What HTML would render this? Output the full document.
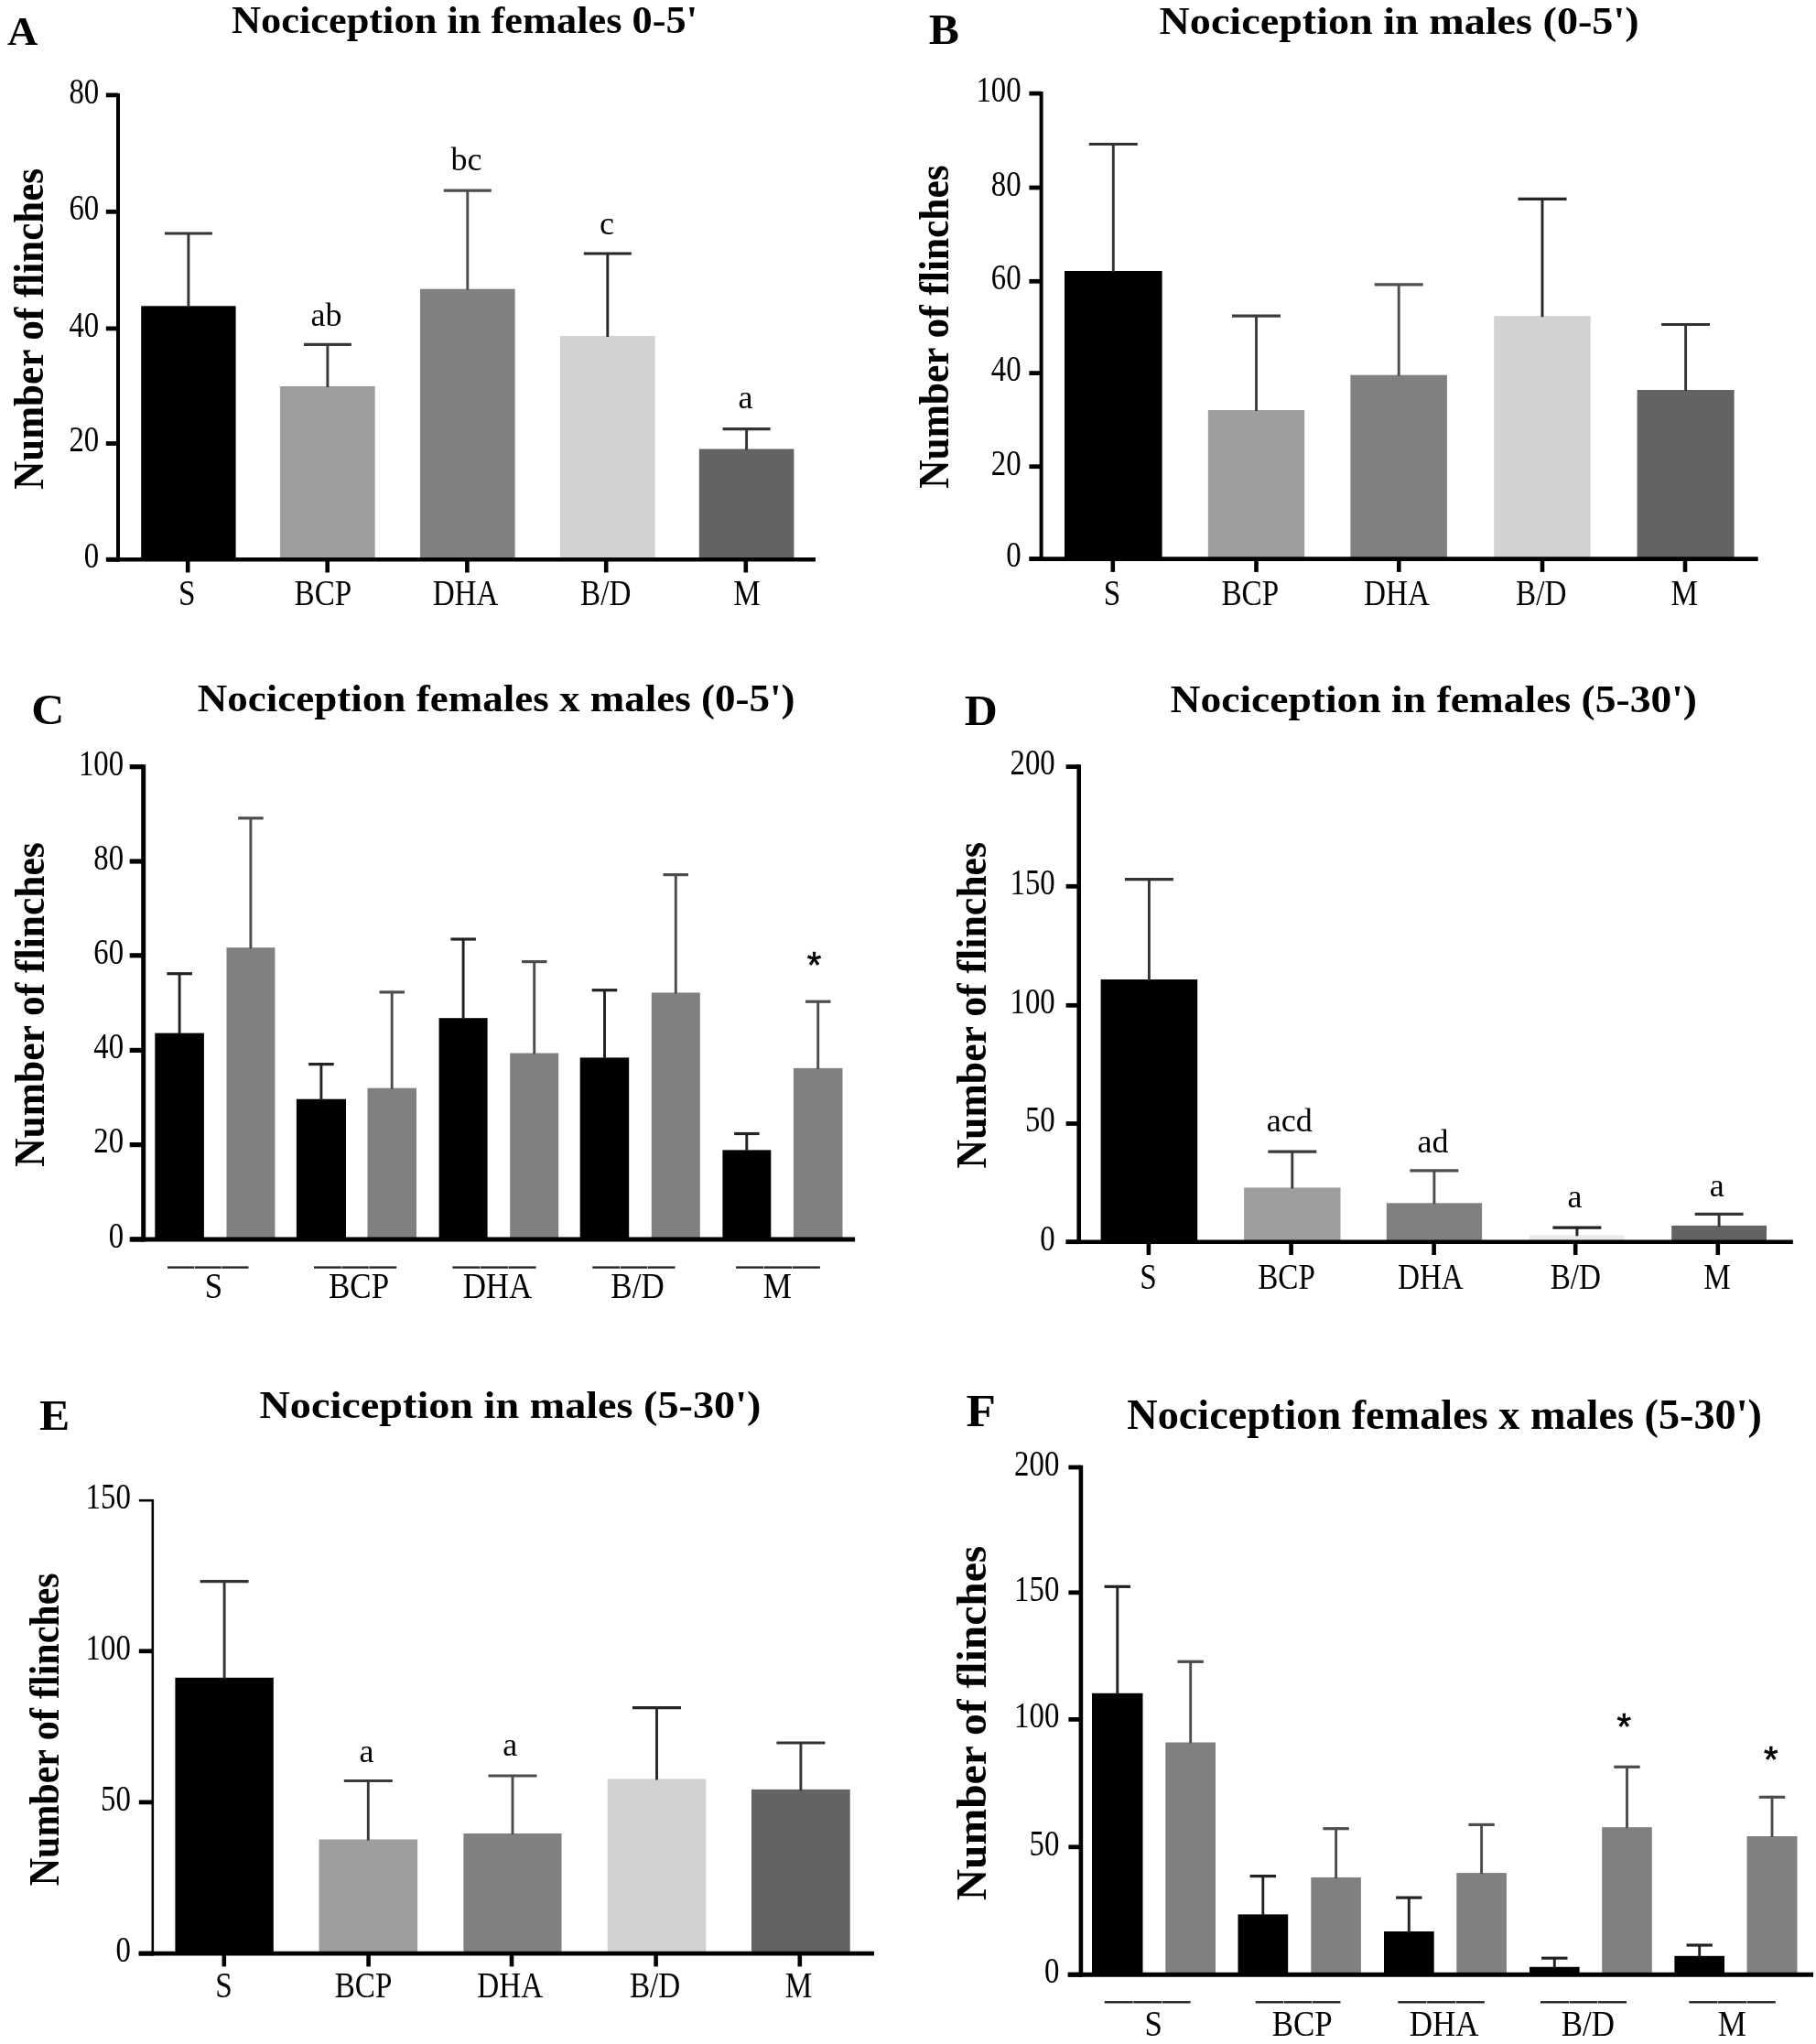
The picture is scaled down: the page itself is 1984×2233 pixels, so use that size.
<!DOCTYPE html>
<html lang="en"><head><meta charset="utf-8"><title>Nociception figure</title>
<style>
html,body{margin:0;padding:0;background:#fff;}
svg{display:block;font-family:"Liberation Serif","DejaVu Serif",serif;}
#fig{filter:blur(0.55px);}
</style></head><body>
<svg width="1984" height="2233" viewBox="0 0 1984 2233">
<rect width="1984" height="2233" fill="#fff"/>
<g id="fig">
<g>
<rect x="154.2" y="334.3" width="103.4" height="276.9" fill="#000000"/>
<rect x="306.0" y="422.0" width="103.7" height="189.2" fill="#9e9e9e"/>
<rect x="459.0" y="315.7" width="103.6" height="295.5" fill="#808080"/>
<rect x="612.0" y="367.0" width="103.6" height="244.2" fill="#d2d2d2"/>
<rect x="763.8" y="490.5" width="103.6" height="120.7" fill="#636363"/>
<line x1="205.9" y1="255.0" x2="205.9" y2="335.3" stroke="#333" stroke-width="2.9"/>
<line x1="179.9" y1="255.0" x2="231.9" y2="255.0" stroke="#333" stroke-width="3.1999999999999997"/>
<line x1="357.9" y1="376.4" x2="357.9" y2="423.0" stroke="#3a3a3a" stroke-width="2.9"/>
<line x1="331.9" y1="376.4" x2="383.9" y2="376.4" stroke="#3a3a3a" stroke-width="3.1999999999999997"/>
<line x1="510.8" y1="208.2" x2="510.8" y2="316.7" stroke="#4c4c4c" stroke-width="2.9"/>
<line x1="484.8" y1="208.2" x2="536.8" y2="208.2" stroke="#4c4c4c" stroke-width="3.1999999999999997"/>
<line x1="663.8" y1="277.0" x2="663.8" y2="368.0" stroke="#262626" stroke-width="2.9"/>
<line x1="637.8" y1="277.0" x2="689.8" y2="277.0" stroke="#262626" stroke-width="3.1999999999999997"/>
<line x1="815.6" y1="468.6" x2="815.6" y2="491.5" stroke="#333" stroke-width="2.9"/>
<line x1="789.6" y1="468.6" x2="841.6" y2="468.6" stroke="#333" stroke-width="3.1999999999999997"/>
<line x1="129.0" y1="101.9" x2="129.0" y2="613.5" stroke="#000" stroke-width="4.0"/>
<line x1="116.7" y1="611.2" x2="891.0" y2="611.2" stroke="#000" stroke-width="4.6"/>
<line x1="115.8" y1="103.9" x2="129.0" y2="103.9" stroke="#000" stroke-width="4.8"/>
<text x="108.2" y="112.7" font-size="40" text-anchor="end" textLength="32.8" lengthAdjust="spacingAndGlyphs">80</text>
<line x1="115.8" y1="231.3" x2="129.0" y2="231.3" stroke="#000" stroke-width="4.8"/>
<text x="108.2" y="240.1" font-size="40" text-anchor="end" textLength="32.8" lengthAdjust="spacingAndGlyphs">60</text>
<line x1="115.8" y1="358.9" x2="129.0" y2="358.9" stroke="#000" stroke-width="4.8"/>
<text x="108.2" y="367.7" font-size="40" text-anchor="end" textLength="32.8" lengthAdjust="spacingAndGlyphs">40</text>
<line x1="115.8" y1="484.5" x2="129.0" y2="484.5" stroke="#000" stroke-width="4.8"/>
<text x="108.2" y="493.3" font-size="40" text-anchor="end" textLength="32.8" lengthAdjust="spacingAndGlyphs">20</text>
<line x1="115.8" y1="611.2" x2="129.0" y2="611.2" stroke="#000" stroke-width="4.8"/>
<text x="108.2" y="620.0" font-size="40" text-anchor="end" textLength="16.4" lengthAdjust="spacingAndGlyphs">0</text>
<line x1="205.2" y1="611.2" x2="205.2" y2="625.5" stroke="#000" stroke-width="4.6"/>
<line x1="357.7" y1="611.2" x2="357.7" y2="625.5" stroke="#000" stroke-width="4.6"/>
<line x1="510.4" y1="611.2" x2="510.4" y2="625.5" stroke="#000" stroke-width="4.6"/>
<line x1="662.2" y1="611.2" x2="662.2" y2="625.5" stroke="#000" stroke-width="4.6"/>
<line x1="814.8" y1="611.2" x2="814.8" y2="625.5" stroke="#000" stroke-width="4.6"/>
<text x="204.2" y="661.0" font-size="39.5" text-anchor="middle" textLength="18.5" lengthAdjust="spacingAndGlyphs">S</text>
<text x="352.9" y="661.0" font-size="39.5" text-anchor="middle" textLength="62.7" lengthAdjust="spacingAndGlyphs">BCP</text>
<text x="508.6" y="661.0" font-size="39.5" text-anchor="middle" textLength="71.9" lengthAdjust="spacingAndGlyphs">DHA</text>
<text x="661.7" y="661.0" font-size="39.5" text-anchor="middle" textLength="55.3" lengthAdjust="spacingAndGlyphs">B/D</text>
<text x="815.9" y="661.0" font-size="39.5" text-anchor="middle" textLength="29.5" lengthAdjust="spacingAndGlyphs">M</text>
<text x="356.6" y="356.2" font-size="36" text-anchor="middle">ab</text>
<text x="509.5" y="186.0" font-size="36" text-anchor="middle">bc</text>
<text x="663.0" y="255.5" font-size="36" text-anchor="middle">c</text>
<text x="814.5" y="446.0" font-size="36" text-anchor="middle">a</text>
<text x="8.0" y="48.6" font-size="43.5" text-anchor="start" font-weight="bold" textLength="33.3" lengthAdjust="spacingAndGlyphs">A</text>
<text x="253.0" y="36.0" font-size="42.5" text-anchor="start" font-weight="bold" textLength="509.0" lengthAdjust="spacingAndGlyphs">Nociception in females 0-5'</text>
<text x="46.6" y="534.8" font-size="46" text-anchor="start" font-weight="bold" textLength="350.9" lengthAdjust="spacingAndGlyphs" transform="rotate(-90 46.6 534.8)">Number of flinches</text>
</g>
<g>
<rect x="1163.0" y="296.0" width="106.6" height="314.6" fill="#000000"/>
<rect x="1319.8" y="448.0" width="105.4" height="162.6" fill="#9e9e9e"/>
<rect x="1475.4" y="409.7" width="105.5" height="200.9" fill="#808080"/>
<rect x="1632.2" y="345.2" width="105.5" height="265.4" fill="#d2d2d2"/>
<rect x="1788.6" y="426.0" width="106.0" height="184.6" fill="#636363"/>
<line x1="1216.3" y1="157.5" x2="1216.3" y2="297.0" stroke="#333" stroke-width="2.9"/>
<line x1="1189.8" y1="157.5" x2="1242.8" y2="157.5" stroke="#333" stroke-width="3.1999999999999997"/>
<line x1="1372.5" y1="345.2" x2="1372.5" y2="449.0" stroke="#3a3a3a" stroke-width="2.9"/>
<line x1="1346.0" y1="345.2" x2="1399.0" y2="345.2" stroke="#3a3a3a" stroke-width="3.1999999999999997"/>
<line x1="1528.2" y1="310.8" x2="1528.2" y2="410.7" stroke="#4c4c4c" stroke-width="2.9"/>
<line x1="1501.7" y1="310.8" x2="1554.7" y2="310.8" stroke="#4c4c4c" stroke-width="3.1999999999999997"/>
<line x1="1685.0" y1="217.4" x2="1685.0" y2="346.2" stroke="#262626" stroke-width="2.9"/>
<line x1="1658.5" y1="217.4" x2="1711.5" y2="217.4" stroke="#262626" stroke-width="3.1999999999999997"/>
<line x1="1841.6" y1="354.5" x2="1841.6" y2="427.0" stroke="#333" stroke-width="2.9"/>
<line x1="1815.1" y1="354.5" x2="1868.1" y2="354.5" stroke="#333" stroke-width="3.1999999999999997"/>
<line x1="1137.6" y1="100.1" x2="1137.6" y2="612.9" stroke="#000" stroke-width="4.0"/>
<line x1="1124.7" y1="610.6" x2="1920.7" y2="610.6" stroke="#000" stroke-width="4.6"/>
<line x1="1124.4" y1="102.1" x2="1137.6" y2="102.1" stroke="#000" stroke-width="4.8"/>
<text x="1115.6" y="110.9" font-size="40" text-anchor="end" textLength="49.2" lengthAdjust="spacingAndGlyphs">100</text>
<line x1="1124.4" y1="205.0" x2="1137.6" y2="205.0" stroke="#000" stroke-width="4.8"/>
<text x="1115.6" y="213.8" font-size="40" text-anchor="end" textLength="32.8" lengthAdjust="spacingAndGlyphs">80</text>
<line x1="1124.4" y1="307.3" x2="1137.6" y2="307.3" stroke="#000" stroke-width="4.8"/>
<text x="1115.6" y="316.1" font-size="40" text-anchor="end" textLength="32.8" lengthAdjust="spacingAndGlyphs">60</text>
<line x1="1124.4" y1="407.6" x2="1137.6" y2="407.6" stroke="#000" stroke-width="4.8"/>
<text x="1115.6" y="416.4" font-size="40" text-anchor="end" textLength="32.8" lengthAdjust="spacingAndGlyphs">40</text>
<line x1="1124.4" y1="509.7" x2="1137.6" y2="509.7" stroke="#000" stroke-width="4.8"/>
<text x="1115.6" y="518.5" font-size="40" text-anchor="end" textLength="32.8" lengthAdjust="spacingAndGlyphs">20</text>
<line x1="1124.4" y1="610.6" x2="1137.6" y2="610.6" stroke="#000" stroke-width="4.8"/>
<text x="1115.6" y="619.4" font-size="40" text-anchor="end" textLength="16.4" lengthAdjust="spacingAndGlyphs">0</text>
<line x1="1215.8" y1="610.6" x2="1215.8" y2="624.9" stroke="#000" stroke-width="4.6"/>
<line x1="1372.5" y1="610.6" x2="1372.5" y2="624.9" stroke="#000" stroke-width="4.6"/>
<line x1="1528.3" y1="610.6" x2="1528.3" y2="624.9" stroke="#000" stroke-width="4.6"/>
<line x1="1685.0" y1="610.6" x2="1685.0" y2="624.9" stroke="#000" stroke-width="4.6"/>
<line x1="1841.0" y1="610.6" x2="1841.0" y2="624.9" stroke="#000" stroke-width="4.6"/>
<text x="1214.9" y="661.0" font-size="39.5" text-anchor="middle" textLength="18.5" lengthAdjust="spacingAndGlyphs">S</text>
<text x="1365.8" y="661.0" font-size="39.5" text-anchor="middle" textLength="62.7" lengthAdjust="spacingAndGlyphs">BCP</text>
<text x="1526.0" y="661.0" font-size="39.5" text-anchor="middle" textLength="71.9" lengthAdjust="spacingAndGlyphs">DHA</text>
<text x="1683.7" y="661.0" font-size="39.5" text-anchor="middle" textLength="55.3" lengthAdjust="spacingAndGlyphs">B/D</text>
<text x="1840.2" y="661.0" font-size="39.5" text-anchor="middle" textLength="29.5" lengthAdjust="spacingAndGlyphs">M</text>
<text x="1014.8" y="48.0" font-size="47" text-anchor="start" font-weight="bold" textLength="33.2" lengthAdjust="spacingAndGlyphs">B</text>
<text x="1266.5" y="36.6" font-size="43" text-anchor="start" font-weight="bold" textLength="524.1" lengthAdjust="spacingAndGlyphs">Nociception in males (0-5')</text>
<text x="1036.3" y="533.8" font-size="46" text-anchor="start" font-weight="bold" textLength="353.4" lengthAdjust="spacingAndGlyphs" transform="rotate(-90 1036.3 533.8)">Number of flinches</text>
</g>
<g>
<rect x="169.3" y="1128.6" width="53.6" height="225.3" fill="#000"/>
<rect x="247.5" y="1035.2" width="52.9" height="318.7" fill="#808080"/>
<rect x="323.9" y="1200.7" width="54.1" height="153.2" fill="#000"/>
<rect x="401.5" y="1188.7" width="53.5" height="165.2" fill="#808080"/>
<rect x="479.6" y="1112.2" width="53.0" height="241.7" fill="#000"/>
<rect x="557.2" y="1150.5" width="53.0" height="203.4" fill="#808080"/>
<rect x="633.7" y="1155.4" width="53.5" height="198.5" fill="#000"/>
<rect x="711.8" y="1084.4" width="53.0" height="269.5" fill="#808080"/>
<rect x="789.4" y="1256.4" width="52.9" height="97.5" fill="#000"/>
<rect x="866.9" y="1166.9" width="53.6" height="187.0" fill="#808080"/>
<line x1="196.1" y1="1063.7" x2="196.1" y2="1129.6" stroke="#222" stroke-width="2.9"/>
<line x1="182.4" y1="1063.7" x2="209.9" y2="1063.7" stroke="#222" stroke-width="3.1999999999999997"/>
<line x1="273.9" y1="893.8" x2="273.9" y2="1036.2" stroke="#4c4c4c" stroke-width="2.9"/>
<line x1="260.2" y1="893.8" x2="287.7" y2="893.8" stroke="#4c4c4c" stroke-width="3.1999999999999997"/>
<line x1="350.9" y1="1162.6" x2="350.9" y2="1201.7" stroke="#222" stroke-width="2.9"/>
<line x1="337.2" y1="1162.6" x2="364.7" y2="1162.6" stroke="#222" stroke-width="3.1999999999999997"/>
<line x1="428.2" y1="1083.9" x2="428.2" y2="1189.7" stroke="#4c4c4c" stroke-width="2.9"/>
<line x1="414.5" y1="1083.9" x2="442.0" y2="1083.9" stroke="#4c4c4c" stroke-width="3.1999999999999997"/>
<line x1="506.1" y1="1026.0" x2="506.1" y2="1113.2" stroke="#222" stroke-width="2.9"/>
<line x1="492.4" y1="1026.0" x2="519.9" y2="1026.0" stroke="#222" stroke-width="3.1999999999999997"/>
<line x1="583.7" y1="1050.6" x2="583.7" y2="1151.5" stroke="#4c4c4c" stroke-width="2.9"/>
<line x1="570.0" y1="1050.6" x2="597.5" y2="1050.6" stroke="#4c4c4c" stroke-width="3.1999999999999997"/>
<line x1="660.5" y1="1081.7" x2="660.5" y2="1156.4" stroke="#222" stroke-width="2.9"/>
<line x1="646.7" y1="1081.7" x2="674.2" y2="1081.7" stroke="#222" stroke-width="3.1999999999999997"/>
<line x1="738.3" y1="955.6" x2="738.3" y2="1085.4" stroke="#4c4c4c" stroke-width="2.9"/>
<line x1="724.5" y1="955.6" x2="752.0" y2="955.6" stroke="#4c4c4c" stroke-width="3.1999999999999997"/>
<line x1="815.8" y1="1238.5" x2="815.8" y2="1257.4" stroke="#222" stroke-width="2.9"/>
<line x1="802.1" y1="1238.5" x2="829.6" y2="1238.5" stroke="#222" stroke-width="3.1999999999999997"/>
<line x1="893.7" y1="1094.2" x2="893.7" y2="1167.9" stroke="#4c4c4c" stroke-width="2.9"/>
<line x1="880.0" y1="1094.2" x2="907.5" y2="1094.2" stroke="#4c4c4c" stroke-width="3.1999999999999997"/>
<line x1="156.7" y1="835.2" x2="156.7" y2="1356.4" stroke="#000" stroke-width="5.0"/>
<line x1="142.5" y1="1353.9" x2="934.1" y2="1353.9" stroke="#000" stroke-width="5.0"/>
<line x1="141.7" y1="837.7" x2="156.7" y2="837.7" stroke="#000" stroke-width="5.2"/>
<text x="135.1" y="846.5" font-size="40" text-anchor="end" textLength="49.2" lengthAdjust="spacingAndGlyphs">100</text>
<line x1="141.7" y1="941.0" x2="156.7" y2="941.0" stroke="#000" stroke-width="5.2"/>
<text x="135.1" y="949.8" font-size="40" text-anchor="end" textLength="32.8" lengthAdjust="spacingAndGlyphs">80</text>
<line x1="141.7" y1="1043.8" x2="156.7" y2="1043.8" stroke="#000" stroke-width="5.2"/>
<text x="135.1" y="1052.6" font-size="40" text-anchor="end" textLength="32.8" lengthAdjust="spacingAndGlyphs">60</text>
<line x1="141.7" y1="1147.4" x2="156.7" y2="1147.4" stroke="#000" stroke-width="5.2"/>
<text x="135.1" y="1156.2" font-size="40" text-anchor="end" textLength="32.8" lengthAdjust="spacingAndGlyphs">40</text>
<line x1="141.7" y1="1250.6" x2="156.7" y2="1250.6" stroke="#000" stroke-width="5.2"/>
<text x="135.1" y="1259.4" font-size="40" text-anchor="end" textLength="32.8" lengthAdjust="spacingAndGlyphs">20</text>
<line x1="141.7" y1="1353.9" x2="156.7" y2="1353.9" stroke="#000" stroke-width="5.2"/>
<text x="135.1" y="1362.7" font-size="40" text-anchor="end" textLength="16.4" lengthAdjust="spacingAndGlyphs">0</text>
<line x1="183.0" y1="1384.6" x2="212.2" y2="1384.6" stroke="#222" stroke-width="2.4"/>
<line x1="212.8" y1="1384.6" x2="241.7" y2="1384.6" stroke="#222" stroke-width="2.4"/>
<line x1="242.3" y1="1384.6" x2="271.5" y2="1384.6" stroke="#222" stroke-width="2.4"/>
<line x1="343.0" y1="1384.6" x2="372.8" y2="1384.6" stroke="#222" stroke-width="2.4"/>
<line x1="373.4" y1="1384.6" x2="402.8" y2="1384.6" stroke="#222" stroke-width="2.4"/>
<line x1="403.4" y1="1384.6" x2="433.2" y2="1384.6" stroke="#222" stroke-width="2.4"/>
<line x1="494.4" y1="1384.6" x2="524.5" y2="1384.6" stroke="#222" stroke-width="2.4"/>
<line x1="525.1" y1="1384.6" x2="554.9" y2="1384.6" stroke="#222" stroke-width="2.4"/>
<line x1="555.5" y1="1384.6" x2="585.6" y2="1384.6" stroke="#222" stroke-width="2.4"/>
<line x1="647.3" y1="1384.6" x2="677.1" y2="1384.6" stroke="#222" stroke-width="2.4"/>
<line x1="677.7" y1="1384.6" x2="707.1" y2="1384.6" stroke="#222" stroke-width="2.4"/>
<line x1="707.7" y1="1384.6" x2="737.5" y2="1384.6" stroke="#222" stroke-width="2.4"/>
<line x1="804.1" y1="1384.6" x2="834.4" y2="1384.6" stroke="#222" stroke-width="2.4"/>
<line x1="835.0" y1="1384.6" x2="865.0" y2="1384.6" stroke="#222" stroke-width="2.4"/>
<line x1="865.6" y1="1384.6" x2="895.9" y2="1384.6" stroke="#222" stroke-width="2.4"/>
<text x="233.5" y="1417.8" font-size="39.5" text-anchor="middle" textLength="19.4" lengthAdjust="spacingAndGlyphs">S</text>
<text x="392.1" y="1417.8" font-size="39.5" text-anchor="middle" textLength="66.1" lengthAdjust="spacingAndGlyphs">BCP</text>
<text x="543.5" y="1417.8" font-size="39.5" text-anchor="middle" textLength="75.7" lengthAdjust="spacingAndGlyphs">DHA</text>
<text x="696.5" y="1417.8" font-size="39.5" text-anchor="middle" textLength="58.3" lengthAdjust="spacingAndGlyphs">B/D</text>
<text x="849.4" y="1417.8" font-size="39.5" text-anchor="middle" textLength="31.1" lengthAdjust="spacingAndGlyphs">M</text>
<text x="889.5" y="1068.0" font-size="40" stroke="#000" stroke-width="0.7" text-anchor="middle" font-family="Liberation Sans, Arial, sans-serif">*</text>
<text x="34.2" y="791.4" font-size="47" text-anchor="start" font-weight="bold" textLength="36.0" lengthAdjust="spacingAndGlyphs">C</text>
<text x="215.8" y="776.9" font-size="43" text-anchor="start" font-weight="bold" textLength="652.8" lengthAdjust="spacingAndGlyphs">Nociception females x males (0-5')</text>
<text x="47.8" y="1274.8" font-size="46" text-anchor="start" font-weight="bold" textLength="354.5" lengthAdjust="spacingAndGlyphs" transform="rotate(-90 47.8 1274.8)">Number of flinches</text>
</g>
<g>
<rect x="1202.6" y="1070.0" width="105.6" height="286.7" fill="#000000"/>
<rect x="1359.1" y="1297.4" width="105.4" height="59.3" fill="#9e9e9e"/>
<rect x="1514.8" y="1314.3" width="104.3" height="42.4" fill="#808080"/>
<rect x="1671.0" y="1349.3" width="103.8" height="7.4" fill="#ebebeb"/>
<rect x="1826.2" y="1338.9" width="103.8" height="17.8" fill="#636363"/>
<line x1="1255.4" y1="960.6" x2="1255.4" y2="1071.0" stroke="#333" stroke-width="2.9"/>
<line x1="1228.9" y1="960.6" x2="1281.9" y2="960.6" stroke="#333" stroke-width="3.1999999999999997"/>
<line x1="1411.8" y1="1258.1" x2="1411.8" y2="1298.4" stroke="#3a3a3a" stroke-width="2.9"/>
<line x1="1385.3" y1="1258.1" x2="1438.3" y2="1258.1" stroke="#3a3a3a" stroke-width="3.1999999999999997"/>
<line x1="1566.9" y1="1278.8" x2="1566.9" y2="1315.3" stroke="#4c4c4c" stroke-width="2.9"/>
<line x1="1540.4" y1="1278.8" x2="1593.4" y2="1278.8" stroke="#4c4c4c" stroke-width="3.1999999999999997"/>
<line x1="1722.9" y1="1341.1" x2="1722.9" y2="1350.3" stroke="#222" stroke-width="2.9"/>
<line x1="1696.4" y1="1341.1" x2="1749.4" y2="1341.1" stroke="#222" stroke-width="3.1999999999999997"/>
<line x1="1878.1" y1="1326.4" x2="1878.1" y2="1339.9" stroke="#333" stroke-width="2.9"/>
<line x1="1851.6" y1="1326.4" x2="1904.6" y2="1326.4" stroke="#333" stroke-width="3.1999999999999997"/>
<line x1="1178.7" y1="835.3" x2="1178.7" y2="1359.0" stroke="#000" stroke-width="4.6"/>
<line x1="1164.6" y1="1356.7" x2="1958.9" y2="1356.7" stroke="#000" stroke-width="4.6"/>
<line x1="1164.6" y1="837.6" x2="1178.7" y2="837.6" stroke="#000" stroke-width="4.8"/>
<text x="1152.7" y="846.4" font-size="40" text-anchor="end" textLength="49.2" lengthAdjust="spacingAndGlyphs">200</text>
<line x1="1164.6" y1="968.3" x2="1178.7" y2="968.3" stroke="#000" stroke-width="4.8"/>
<text x="1152.7" y="977.1" font-size="40" text-anchor="end" textLength="49.2" lengthAdjust="spacingAndGlyphs">150</text>
<line x1="1164.6" y1="1098.3" x2="1178.7" y2="1098.3" stroke="#000" stroke-width="4.8"/>
<text x="1152.7" y="1107.1" font-size="40" text-anchor="end" textLength="49.2" lengthAdjust="spacingAndGlyphs">100</text>
<line x1="1164.6" y1="1227.5" x2="1178.7" y2="1227.5" stroke="#000" stroke-width="4.8"/>
<text x="1152.7" y="1236.3" font-size="40" text-anchor="end" textLength="32.8" lengthAdjust="spacingAndGlyphs">50</text>
<line x1="1164.6" y1="1356.7" x2="1178.7" y2="1356.7" stroke="#000" stroke-width="4.8"/>
<text x="1152.7" y="1365.5" font-size="40" text-anchor="end" textLength="16.4" lengthAdjust="spacingAndGlyphs">0</text>
<line x1="1254.9" y1="1356.7" x2="1254.9" y2="1371.0" stroke="#000" stroke-width="4.6"/>
<line x1="1410.6" y1="1356.7" x2="1410.6" y2="1371.0" stroke="#000" stroke-width="4.6"/>
<line x1="1566.6" y1="1356.7" x2="1566.6" y2="1371.0" stroke="#000" stroke-width="4.6"/>
<line x1="1721.2" y1="1356.7" x2="1721.2" y2="1371.0" stroke="#000" stroke-width="4.6"/>
<line x1="1876.8" y1="1356.7" x2="1876.8" y2="1371.0" stroke="#000" stroke-width="4.6"/>
<text x="1254.4" y="1407.6" font-size="39.5" text-anchor="middle" textLength="18.5" lengthAdjust="spacingAndGlyphs">S</text>
<text x="1405.5" y="1407.6" font-size="39.5" text-anchor="middle" textLength="62.7" lengthAdjust="spacingAndGlyphs">BCP</text>
<text x="1562.9" y="1407.6" font-size="39.5" text-anchor="middle" textLength="71.9" lengthAdjust="spacingAndGlyphs">DHA</text>
<text x="1721.3" y="1407.6" font-size="39.5" text-anchor="middle" textLength="55.3" lengthAdjust="spacingAndGlyphs">B/D</text>
<text x="1875.9" y="1407.6" font-size="39.5" text-anchor="middle" textLength="29.5" lengthAdjust="spacingAndGlyphs">M</text>
<text x="1408.8" y="1236.3" font-size="36" text-anchor="middle">acd</text>
<text x="1565.6" y="1259.4" font-size="36" text-anchor="middle">ad</text>
<text x="1720.6" y="1318.8" font-size="36" text-anchor="middle">a</text>
<text x="1875.7" y="1306.5" font-size="36" text-anchor="middle">a</text>
<text x="1053.8" y="792.0" font-size="47" text-anchor="start" font-weight="bold" textLength="36.0" lengthAdjust="spacingAndGlyphs">D</text>
<text x="1278.5" y="777.8" font-size="43" text-anchor="start" font-weight="bold" textLength="575.5" lengthAdjust="spacingAndGlyphs">Nociception in females (5-30')</text>
<text x="1077.2" y="1276.6" font-size="46" text-anchor="start" font-weight="bold" textLength="356.6" lengthAdjust="spacingAndGlyphs" transform="rotate(-90 1077.2 1276.6)">Number of flinches</text>
</g>
<g>
<rect x="191.4" y="1832.8" width="107.4" height="301.3" fill="#000000"/>
<rect x="348.5" y="2009.5" width="107.6" height="124.6" fill="#9e9e9e"/>
<rect x="506.4" y="2003.0" width="107.1" height="131.1" fill="#808080"/>
<rect x="663.7" y="1943.4" width="107.6" height="190.7" fill="#d2d2d2"/>
<rect x="821.0" y="1954.9" width="107.7" height="179.2" fill="#636363"/>
<line x1="245.1" y1="1727.6" x2="245.1" y2="1833.8" stroke="#333" stroke-width="2.9"/>
<line x1="218.6" y1="1727.6" x2="271.6" y2="1727.6" stroke="#333" stroke-width="3.1999999999999997"/>
<line x1="402.3" y1="1945.5" x2="402.3" y2="2010.5" stroke="#3a3a3a" stroke-width="2.9"/>
<line x1="375.8" y1="1945.5" x2="428.8" y2="1945.5" stroke="#3a3a3a" stroke-width="3.1999999999999997"/>
<line x1="560.0" y1="1940.0" x2="560.0" y2="2004.0" stroke="#4c4c4c" stroke-width="2.9"/>
<line x1="533.5" y1="1940.0" x2="586.5" y2="1940.0" stroke="#4c4c4c" stroke-width="3.1999999999999997"/>
<line x1="717.5" y1="1865.6" x2="717.5" y2="1944.4" stroke="#262626" stroke-width="2.9"/>
<line x1="691.0" y1="1865.6" x2="744.0" y2="1865.6" stroke="#262626" stroke-width="3.1999999999999997"/>
<line x1="874.9" y1="1904.0" x2="874.9" y2="1955.9" stroke="#333" stroke-width="2.9"/>
<line x1="848.4" y1="1904.0" x2="901.4" y2="1904.0" stroke="#333" stroke-width="3.1999999999999997"/>
<line x1="166.8" y1="1637.9" x2="166.8" y2="2136.4" stroke="#000" stroke-width="2.6"/>
<line x1="151.6" y1="2134.1" x2="955.0" y2="2134.1" stroke="#000" stroke-width="4.6"/>
<line x1="151.8" y1="1639.2" x2="166.8" y2="1639.2" stroke="#000" stroke-width="2.6"/>
<text x="142.8" y="1648.0" font-size="40" text-anchor="end" textLength="49.2" lengthAdjust="spacingAndGlyphs">150</text>
<line x1="151.8" y1="1803.8" x2="166.8" y2="1803.8" stroke="#000" stroke-width="4.8"/>
<text x="142.8" y="1812.6" font-size="40" text-anchor="end" textLength="49.2" lengthAdjust="spacingAndGlyphs">100</text>
<line x1="151.8" y1="1968.9" x2="166.8" y2="1968.9" stroke="#000" stroke-width="4.8"/>
<text x="142.8" y="1977.7" font-size="40" text-anchor="end" textLength="32.8" lengthAdjust="spacingAndGlyphs">50</text>
<line x1="151.8" y1="2134.1" x2="166.8" y2="2134.1" stroke="#000" stroke-width="4.8"/>
<text x="142.8" y="2142.9" font-size="40" text-anchor="end" textLength="16.4" lengthAdjust="spacingAndGlyphs">0</text>
<line x1="244.8" y1="2134.1" x2="244.8" y2="2148.4" stroke="#000" stroke-width="4.6"/>
<line x1="402.6" y1="2134.1" x2="402.6" y2="2148.4" stroke="#000" stroke-width="4.6"/>
<line x1="559.0" y1="2134.1" x2="559.0" y2="2148.4" stroke="#000" stroke-width="4.6"/>
<line x1="716.6" y1="2134.1" x2="716.6" y2="2148.4" stroke="#000" stroke-width="4.6"/>
<line x1="873.8" y1="2134.1" x2="873.8" y2="2148.4" stroke="#000" stroke-width="4.6"/>
<text x="244.6" y="2182.0" font-size="39.5" text-anchor="middle" textLength="18.5" lengthAdjust="spacingAndGlyphs">S</text>
<text x="397.1" y="2182.0" font-size="39.5" text-anchor="middle" textLength="62.7" lengthAdjust="spacingAndGlyphs">BCP</text>
<text x="557.2" y="2182.0" font-size="39.5" text-anchor="middle" textLength="71.9" lengthAdjust="spacingAndGlyphs">DHA</text>
<text x="715.6" y="2182.0" font-size="39.5" text-anchor="middle" textLength="55.3" lengthAdjust="spacingAndGlyphs">B/D</text>
<text x="872.4" y="2182.0" font-size="39.5" text-anchor="middle" textLength="29.5" lengthAdjust="spacingAndGlyphs">M</text>
<text x="400.4" y="1925.0" font-size="36" text-anchor="middle">a</text>
<text x="557.2" y="1918.4" font-size="36" text-anchor="middle">a</text>
<text x="43.0" y="1561.6" font-size="47" text-anchor="start" font-weight="bold" textLength="33.2" lengthAdjust="spacingAndGlyphs">E</text>
<text x="283.5" y="1549.4" font-size="43" text-anchor="start" font-weight="bold" textLength="547.9" lengthAdjust="spacingAndGlyphs">Nociception in males (5-30')</text>
<text x="63.8" y="2060.2" font-size="46" text-anchor="start" font-weight="bold" textLength="341.8" lengthAdjust="spacingAndGlyphs" transform="rotate(-90 63.8 2060.2)">Number of flinches</text>
</g>
<g>
<rect x="1193.0" y="1849.8" width="55.5" height="307.4" fill="#000"/>
<rect x="1273.3" y="1903.5" width="54.7" height="253.7" fill="#808080"/>
<rect x="1352.5" y="2091.4" width="54.7" height="65.8" fill="#000"/>
<rect x="1432.3" y="2051.0" width="54.6" height="106.2" fill="#808080"/>
<rect x="1512.0" y="2110.0" width="54.7" height="47.2" fill="#000"/>
<rect x="1591.3" y="2046.1" width="54.6" height="111.1" fill="#808080"/>
<rect x="1671.0" y="2148.8" width="54.6" height="8.4" fill="#000"/>
<rect x="1750.2" y="1996.2" width="54.6" height="161.0" fill="#808080"/>
<rect x="1829.4" y="2136.8" width="54.6" height="20.4" fill="#000"/>
<rect x="1908.5" y="2006.0" width="55.0" height="151.2" fill="#808080"/>
<line x1="1220.8" y1="1733.3" x2="1220.8" y2="1850.8" stroke="#222" stroke-width="2.9"/>
<line x1="1206.5" y1="1733.3" x2="1235.0" y2="1733.3" stroke="#222" stroke-width="3.1999999999999997"/>
<line x1="1300.7" y1="1815.3" x2="1300.7" y2="1904.5" stroke="#4c4c4c" stroke-width="2.9"/>
<line x1="1286.5" y1="1815.3" x2="1314.9" y2="1815.3" stroke="#4c4c4c" stroke-width="3.1999999999999997"/>
<line x1="1379.8" y1="2049.6" x2="1379.8" y2="2092.4" stroke="#222" stroke-width="2.9"/>
<line x1="1365.6" y1="2049.6" x2="1394.0" y2="2049.6" stroke="#222" stroke-width="3.1999999999999997"/>
<line x1="1459.6" y1="1997.7" x2="1459.6" y2="2052.0" stroke="#4c4c4c" stroke-width="2.9"/>
<line x1="1445.4" y1="1997.7" x2="1473.8" y2="1997.7" stroke="#4c4c4c" stroke-width="3.1999999999999997"/>
<line x1="1539.3" y1="2073.1" x2="1539.3" y2="2111.0" stroke="#222" stroke-width="2.9"/>
<line x1="1525.1" y1="2073.1" x2="1553.5" y2="2073.1" stroke="#222" stroke-width="3.1999999999999997"/>
<line x1="1618.6" y1="1993.4" x2="1618.6" y2="2047.1" stroke="#4c4c4c" stroke-width="2.9"/>
<line x1="1604.4" y1="1993.4" x2="1632.8" y2="1993.4" stroke="#4c4c4c" stroke-width="3.1999999999999997"/>
<line x1="1698.3" y1="2139.2" x2="1698.3" y2="2149.8" stroke="#222" stroke-width="2.9"/>
<line x1="1684.1" y1="2139.2" x2="1712.5" y2="2139.2" stroke="#222" stroke-width="3.1999999999999997"/>
<line x1="1777.5" y1="1930.3" x2="1777.5" y2="1997.2" stroke="#4c4c4c" stroke-width="2.9"/>
<line x1="1763.3" y1="1930.3" x2="1791.7" y2="1930.3" stroke="#4c4c4c" stroke-width="3.1999999999999997"/>
<line x1="1856.7" y1="2125.0" x2="1856.7" y2="2137.8" stroke="#222" stroke-width="2.9"/>
<line x1="1842.5" y1="2125.0" x2="1870.9" y2="2125.0" stroke="#222" stroke-width="3.1999999999999997"/>
<line x1="1936.0" y1="1963.3" x2="1936.0" y2="2007.0" stroke="#4c4c4c" stroke-width="2.9"/>
<line x1="1921.8" y1="1963.3" x2="1950.2" y2="1963.3" stroke="#4c4c4c" stroke-width="3.1999999999999997"/>
<line x1="1180.9" y1="1600.7" x2="1180.9" y2="2159.7" stroke="#000" stroke-width="4.6"/>
<line x1="1166.6" y1="2157.2" x2="1981.0" y2="2157.2" stroke="#000" stroke-width="5.0"/>
<line x1="1167.4" y1="1603.0" x2="1180.9" y2="1603.0" stroke="#000" stroke-width="4.8"/>
<text x="1157.3" y="1611.8" font-size="40" text-anchor="end" textLength="49.2" lengthAdjust="spacingAndGlyphs">200</text>
<line x1="1167.4" y1="1739.8" x2="1180.9" y2="1739.8" stroke="#000" stroke-width="4.8"/>
<text x="1157.3" y="1748.6" font-size="40" text-anchor="end" textLength="49.2" lengthAdjust="spacingAndGlyphs">150</text>
<line x1="1167.4" y1="1878.4" x2="1180.9" y2="1878.4" stroke="#000" stroke-width="4.8"/>
<text x="1157.3" y="1887.2" font-size="40" text-anchor="end" textLength="49.2" lengthAdjust="spacingAndGlyphs">100</text>
<line x1="1167.4" y1="2017.8" x2="1180.9" y2="2017.8" stroke="#000" stroke-width="4.8"/>
<text x="1157.3" y="2026.6" font-size="40" text-anchor="end" textLength="32.8" lengthAdjust="spacingAndGlyphs">50</text>
<line x1="1167.4" y1="2157.2" x2="1180.9" y2="2157.2" stroke="#000" stroke-width="4.8"/>
<text x="1157.3" y="2166.0" font-size="40" text-anchor="end" textLength="16.4" lengthAdjust="spacingAndGlyphs">0</text>
<line x1="1206.7" y1="2187.3" x2="1237.7" y2="2187.3" stroke="#222" stroke-width="2.4"/>
<line x1="1238.3" y1="2187.3" x2="1269.0" y2="2187.3" stroke="#222" stroke-width="2.4"/>
<line x1="1269.6" y1="2187.3" x2="1300.6" y2="2187.3" stroke="#222" stroke-width="2.4"/>
<line x1="1371.7" y1="2187.3" x2="1402.3" y2="2187.3" stroke="#222" stroke-width="2.4"/>
<line x1="1402.9" y1="2187.3" x2="1433.3" y2="2187.3" stroke="#222" stroke-width="2.4"/>
<line x1="1433.9" y1="2187.3" x2="1464.5" y2="2187.3" stroke="#222" stroke-width="2.4"/>
<line x1="1527.3" y1="2187.3" x2="1558.5" y2="2187.3" stroke="#222" stroke-width="2.4"/>
<line x1="1559.1" y1="2187.3" x2="1590.0" y2="2187.3" stroke="#222" stroke-width="2.4"/>
<line x1="1590.6" y1="2187.3" x2="1621.8" y2="2187.3" stroke="#222" stroke-width="2.4"/>
<line x1="1683.0" y1="2187.3" x2="1714.0" y2="2187.3" stroke="#222" stroke-width="2.4"/>
<line x1="1714.6" y1="2187.3" x2="1745.4" y2="2187.3" stroke="#222" stroke-width="2.4"/>
<line x1="1746.0" y1="2187.3" x2="1777.0" y2="2187.3" stroke="#222" stroke-width="2.4"/>
<line x1="1845.3" y1="2187.3" x2="1876.5" y2="2187.3" stroke="#222" stroke-width="2.4"/>
<line x1="1877.1" y1="2187.3" x2="1908.0" y2="2187.3" stroke="#222" stroke-width="2.4"/>
<line x1="1908.6" y1="2187.3" x2="1939.8" y2="2187.3" stroke="#222" stroke-width="2.4"/>
<text x="1260.2" y="2223.6" font-size="39.5" text-anchor="middle" textLength="19.4" lengthAdjust="spacingAndGlyphs">S</text>
<text x="1422.7" y="2223.6" font-size="39.5" text-anchor="middle" textLength="66.1" lengthAdjust="spacingAndGlyphs">BCP</text>
<text x="1577.6" y="2223.6" font-size="39.5" text-anchor="middle" textLength="75.7" lengthAdjust="spacingAndGlyphs">DHA</text>
<text x="1734.9" y="2223.6" font-size="39.5" text-anchor="middle" textLength="58.3" lengthAdjust="spacingAndGlyphs">B/D</text>
<text x="1892.2" y="2223.6" font-size="39.5" text-anchor="middle" textLength="31.1" lengthAdjust="spacingAndGlyphs">M</text>
<text x="1774.2" y="1899.8" font-size="40" stroke="#000" stroke-width="0.7" text-anchor="middle" font-family="Liberation Sans, Arial, sans-serif">*</text>
<text x="1934.8" y="1935.5" font-size="40" stroke="#000" stroke-width="0.7" text-anchor="middle" font-family="Liberation Sans, Arial, sans-serif">*</text>
<text x="1055.5" y="1557.6" font-size="50" text-anchor="start" font-weight="bold" textLength="32.4" lengthAdjust="spacingAndGlyphs">F</text>
<text x="1231.3" y="1560.5" font-size="47" text-anchor="start" font-weight="bold" textLength="693.7" lengthAdjust="spacingAndGlyphs">Nociception females x males (5-30')</text>
<text x="1076.8" y="2076.3" font-size="46.5" text-anchor="start" font-weight="bold" textLength="387.7" lengthAdjust="spacingAndGlyphs" transform="rotate(-90 1076.8 2076.3)">Number of flinches</text>
</g>
</g>
</svg>
</body></html>
